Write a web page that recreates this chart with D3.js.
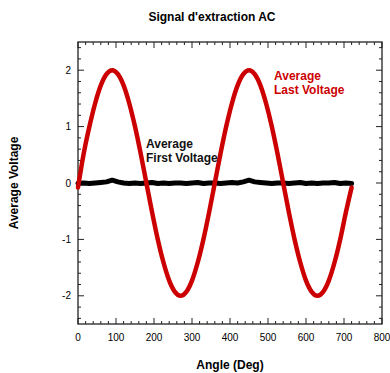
<!DOCTYPE html>
<html>
<head>
<meta charset="utf-8">
<script src="https://cdn.jsdelivr.net/npm/d3@7"></script>
<style>
  body { margin: 0; background: #fff; }
  text { font-family: "Liberation Sans", Arial, sans-serif; }
</style>
</head>
<body>
<svg id="chart" width="390" height="373"></svg>
<script>
// angles (deg) the samples were taken at
const angles = [0, 15, 30, 45, 60, 75, 90, 105, 120, 135, 150, 165, 180, 195, 210, 225, 240, 255, 270, 285, 300, 315, 330, 345,
                360, 375, 390, 405, 420, 435, 450, 465, 480, 495, 510, 525, 540, 555, 570, 585, 600, 615, 630, 645, 660, 675, 690, 705, 720]

// average last voltage (red)
const lastVoltage = [-0.08, 0.52, 1.0, 1.41, 1.73, 1.93, 2.0, 1.93, 1.73, 1.41, 1.0, 0.52, 0.0, -0.52, -1.0, -1.41, -1.73, -1.93, -2.0, -1.93, -1.73, -1.41, -1.0, -0.52,
                     0.0, 0.52, 1.0, 1.41, 1.73, 1.93, 2.0, 1.93, 1.73, 1.41, 1.0, 0.52, 0.0, -0.52, -1.0, -1.41, -1.73, -1.93, -2.0, -1.93, -1.73, -1.41, -1.0, -0.52, -0.08]

// average first voltage (black)
const firstVoltage = [-0.01, 0.0, -0.01, 0.0, 0.01, 0.02, 0.05, 0.02, 0.0, -0.01, 0.0, -0.01, 0.0, 0.01, -0.01, 0.0, -0.01, 0.0, 0.0, -0.01, 0.0, 0.01, -0.01, 0.0,
                      0.0, -0.01, 0.0, 0.01, 0.0, 0.02, 0.05, 0.02, 0.01, 0.0, -0.01, 0.0, 0.0, -0.01, 0.0, 0.01, -0.01, 0.0, -0.01, 0.0, 0.0, 0.01, -0.01, 0.0, -0.01]

const xTicks = [0, 100, 200, 300, 400, 500, 600, 700, 800]
const yTicks = [-2, -1, 0, 1, 2]

const svg = d3.select('#chart')
const margin = {left: 78, right: 8, top: 42, bottom: 49}
const width = 390 - margin.left - margin.right
const height = 373 - margin.top - margin.bottom

const xScale = d3.scaleLinear().domain([0, 800]).range([0, width])
const yScale = d3.scaleLinear().domain([-2.5, 2.5]).range([height, 0])

const g = svg.append('g').attr('transform', `translate(${margin.left},${margin.top})`)

// minor + major ticks, pointing inward on all four sides
const xMinor = d3.range(0, 801, 20)
const yMinor = d3.range(-2.4, 2.41, 0.2)
const tickG = g.append('g').attr('stroke', '#222').attr('stroke-width', 1)
xMinor.forEach(v => {
    const len = v % 100 === 0 ? 6 : 3
    tickG.append('line').attr('x1', xScale(v)).attr('x2', xScale(v)).attr('y1', height).attr('y2', height - len)
    tickG.append('line').attr('x1', xScale(v)).attr('x2', xScale(v)).attr('y1', 0).attr('y2', len)
})
yMinor.forEach(v => {
    const major = Math.abs(v - Math.round(v)) < 1e-6
    const len = major ? 6 : 3
    tickG.append('line').attr('x1', 0).attr('x2', len).attr('y1', yScale(v)).attr('y2', yScale(v))
    tickG.append('line').attr('x1', width).attr('x2', width - len).attr('y1', yScale(v)).attr('y2', yScale(v))
})

g.append('rect')
    .attr('width', width).attr('height', height)
    .attr('fill', 'none').attr('stroke', '#222').attr('stroke-width', 1.3)

// tick labels
g.append('g').selectAll('text')
    .data(xTicks).enter().append('text')
    .attr('x', d => xScale(d)).attr('y', height + 17)
    .attr('text-anchor', 'middle').attr('font-size', 10)
    .text(d => d)

g.append('g').selectAll('text')
    .data(yTicks).enter().append('text')
    .attr('x', -7).attr('y', d => yScale(d) + 3.5)
    .attr('text-anchor', 'end').attr('font-size', 10)
    .text(d => d)

const line = d3.line().x((d, i) => xScale(angles[i])).y(d => yScale(d))

g.append('path')
    .datum(firstVoltage)
    .attr('fill', 'none').attr('stroke', '#000').attr('stroke-width', 5)
    .attr('stroke-linejoin', 'round').attr('stroke-linecap', 'round')
    .attr('d', line)

g.append('path')
    .datum(lastVoltage)
    .attr('fill', 'none').attr('stroke', '#cc0000').attr('stroke-width', 4.5)
    .attr('stroke-linejoin', 'round').attr('stroke-linecap', 'round')
    .attr('d', line.curve(d3.curveCardinal))

// annotations
const ann = (x, y, lines, color) => {
    const t = svg.append('text').attr('font-size', 12).attr('font-weight', 'bold').attr('fill', color)
    lines.forEach((s, i) => t.append('tspan').attr('x', x).attr('y', y + i * 14).text(s))
}
ann(146, 148, ['Average', 'First Voltage'], '#111')
ann(274, 80, ['Average', 'Last Voltage'], '#cc0000')

svg.append('text').attr('x', 212).attr('y', 21)
    .attr('text-anchor', 'middle').attr('font-size', 12).attr('font-weight', 'bold')
    .text("Signal d'extraction AC")

svg.append('text').attr('x', margin.left + width / 2).attr('y', 369)
    .attr('text-anchor', 'middle').attr('font-size', 12).attr('font-weight', 'bold')
    .text('Angle (Deg)')

svg.append('text')
    .attr('transform', `translate(18,${margin.top + height / 2}) rotate(-90)`)
    .attr('text-anchor', 'middle').attr('font-size', 12).attr('font-weight', 'bold')
    .text('Average Voltage')
</script>
</body>
</html>
